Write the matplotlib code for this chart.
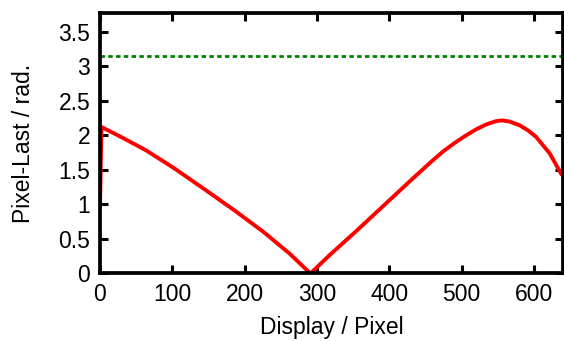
import numpy as np
import matplotlib
matplotlib.use("Agg")
import matplotlib.pyplot as plt

plt.rcParams['font.family'] = ['Liberation Sans', 'DejaVu Sans']

# phase difference of each display pixel against the last one
pixel = [0, 2, 32, 64, 103, 145, 185, 225, 262, 291, 318, 354, 390, 428,
         440, 460, 475, 490, 505, 520, 535, 548, 556, 566, 580, 592, 603,
         622, 639]
phase = [0.95, 2.12, 1.96, 1.78, 1.52, 1.215, 0.92, 0.61, 0.29, 0.0, 0.27,
         0.61, 0.96, 1.33, 1.445, 1.635, 1.77, 1.885, 1.99, 2.085, 2.16,
         2.205, 2.215, 2.2, 2.146, 2.07, 1.977, 1.737, 1.42]
limit = np.pi

xticks = [0, 100, 200, 300, 400, 500, 600]
yticks = [0, 0.5, 1, 1.5, 2, 2.5, 3, 3.5]
ytick_labels = ['0', '0.5', '1', '1.5', '2', '2.5', '3', '3.5']

fig = plt.figure(figsize=(5.64, 3.41), dpi=100)
ax = fig.add_axes([0.1773, 0.198, 0.8205, 0.764])

ax.plot(pixel, phase, color='#ff0000', lw=2.8, solid_joinstyle='round',
        solid_capstyle='butt')
ax.axhline(limit, color='#008000', lw=2.0, linestyle=(0, (1.6, 1.2)))

ax.set_xlim(0, 640)
ax.set_ylim(0, 1.2 * np.pi)
ax.set_xticks(xticks)
ax.set_yticks(yticks)
ax.set_yticklabels(ytick_labels)

for s in ax.spines.values():
    s.set_linewidth(2.7)
ax.tick_params(direction='in', length=5.5, width=2.2, top=True, right=True,
               labelsize=16.5, pad=7)

ax.set_xlabel('Display / Pixel', fontsize=16.5, labelpad=7)
ax.set_ylabel('Pixel-Last / rad.', fontsize=16.5, labelpad=17)

fig.savefig('out.png', dpi=100)
